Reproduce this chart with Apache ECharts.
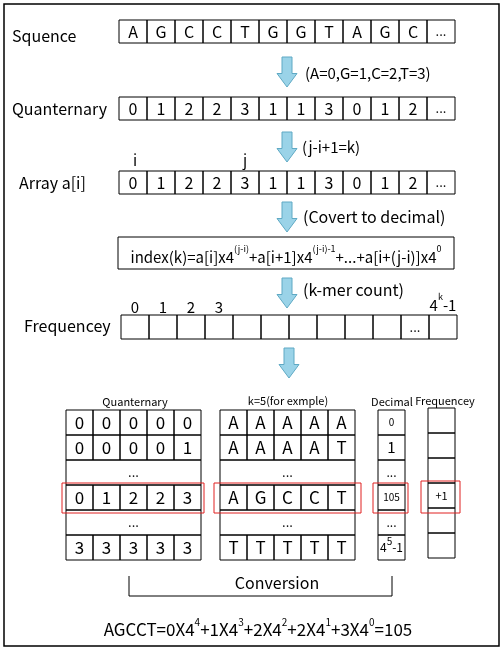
<!DOCTYPE html>
<html>
<head>
<meta charset="utf-8">
<script src="https://cdn.jsdelivr.net/npm/echarts@6/dist/echarts.min.js"></script>
<style>html,body{margin:0;padding:0;background:#fff}#main{width:503px;height:650px}</style>
</head>
<body>
<div id="main"></div>
<script>
// 数据
var sequence = ['A', 'G', 'C', 'C', 'T', 'G', 'G', 'T', 'A', 'G', 'C', '...'];
var quaternary = ['0', '1', '2', '2', '3', '1', '1', '3', '0', '1', '2', '...'];
var freqLabels = ['0', '1', '2', '3'];
var quanRows = [['0','0','0','0','0'], ['0','0','0','0','1'], '...', ['0','1','2','2','3'], '...', ['3','3','3','3','3']];
var kmerRows = [['A','A','A','A','A'], ['A','A','A','A','T'], '...', ['A','G','C','C','T'], '...', ['T','T','T','T','T']];
var decimalCol = ['0', '1', '...', '105', '...', '{b|4}{s|5}{b|-1}'];
var freqCol = ['', '', '', '+1', '', ''];
var stepNotes = ['(A=0,G=1,C=2,T=3)', '(j-i+1=k)', '(Covert to decimal)', '(k-mer count)'];

var FONT = '"Noto Sans CJK SC", "Noto Sans", sans-serif';
var els = [];

function rect(x, y, w, h, stroke, lw) {
    els.push({type: 'rect', shape: {x: x, y: y, width: w, height: h},
        style: {fill: 'none', stroke: stroke || '#000', lineWidth: lw || 1}});
}
function text(x, y, t, size, align, extra) {
    var st = {text: t, x: x, y: y, fill: '#000', font: (size || 16) + 'px ' + FONT,
        align: align || 'left', verticalAlign: 'middle'};
    for (var k in extra) st[k] = extra[k];
    els.push({type: 'text', style: st});
}
function arrow(cx, y0, y1) {
    var mid = y0 + (y1 - y0) * 0.55;
    els.push({type: 'polygon', shape: {points: [
        [cx - 5, y0], [cx + 5, y0], [cx + 5, mid], [cx + 10, mid],
        [cx, y1], [cx - 10, mid], [cx - 5, mid]]},
        style: {fill: '#9ad3e8', stroke: '#5fa9c4', lineWidth: 1}});
}
function row(x, y, cw, h, cells, size) {
    for (var i = 0; i < cells.length; i++) {
        rect(x + i * cw, y, cw, h);
        if (cells[i] !== '') text(x + i * cw + cw / 2, y + h / 2, cells[i], cells[i] === '...' ? 13 : (size || 16), 'center');
    }
}
function grid(x, y, cw, rh, rows) {
    for (var r = 0; r < rows.length; r++) {
        var yy = y + r * rh;
        if (typeof rows[r] === 'string') {
            rect(x, yy, cw * 5, rh);
            text(x + cw * 2.5, yy + rh / 2, rows[r], 13, 'center');
        } else {
            row(x, yy, cw, rh, rows[r], 17);
        }
    }
}

// 外框
rect(4, 4, 495, 642, '#000', 1.5);

// 上半部分
text(12, 36, 'Squence', 16);
row(119, 20, 28, 23, sequence, 16);
arrow(287, 57, 87);
text(305, 73, stepNotes[0], 15);

text(12, 109, 'Quanternary', 16);
row(119, 97, 28, 23, quaternary, 16);
arrow(287, 132, 162);
text(302, 147, stepNotes[1], 15);
text(135, 160, 'i', 15, 'center');
text(245, 160, 'j', 15, 'center');

text(19, 183, 'Array a[i]', 16);
row(119, 171, 28, 23, quaternary, 16);
arrow(287, 202, 232);
text(303, 217, stepNotes[2], 16);

var rich = {
    b: {fontSize: 15, fontFamily: FONT, fill: '#000', lineHeight: 20},
    s: {fontSize: 9, fontFamily: FONT, fill: '#000', padding: [0, 0, 16, 0]}
};
rect(118, 237, 336, 32);
text(286, 257, '{b|index(k)=a[i]x4}{s|(j-i)}{b|+a[i+1]x4}{s|(j-i)-1}{b|+...+a[i+(j-i)]x4}{s|0}', 15, 'center', {rich: rich});
arrow(287, 278, 308);
text(303, 290, stepNotes[3], 16);

for (var i = 0; i < freqLabels.length; i++) text(135 + i * 28, 307, freqLabels[i], 15, 'center');
text(443, 305, '{b|4}{s|k}{b|-1}', 15, 'center', {rich: rich});
text(24, 326, 'Frequencey', 16);
var freqRow = [];
for (i = 0; i < 12; i++) freqRow.push(i === 10 ? '...' : '');
row(121, 315, 28, 24, freqRow, 14);
arrow(289, 348, 378);

// 下半部分
text(135, 402, 'Quanternary', 11, 'center');
text(288, 401, 'k=5(for exmple)', 11, 'center');
text(392, 402, 'Decimal', 11, 'center');
text(445, 401, 'Frequencey', 11, 'center');
grid(66, 410, 27, 25, quanRows);
grid(220, 410, 27, 25, kmerRows);
var smallRich = {
    b: {fontSize: 12, fontFamily: FONT, fill: '#000'},
    s: {fontSize: 10, fontFamily: FONT, fill: '#000', padding: [0, 0, 12, 0]}
};
for (i = 0; i < decimalCol.length; i++) {
    rect(378, 410 + i * 25, 27, 25);
    text(391.5, 422.5 + i * 25, decimalCol[i], i === 1 ? 15 : (decimalCol[i] === '...' ? 12 : 10), 'center', {rich: smallRich});
    rect(428, 408 + i * 25, 27, 25);
    if (freqCol[i]) text(441.5, 420.5 + i * 25, freqCol[i], 11, 'center');
}
rect(62, 483, 142, 30, '#e02020');
rect(214, 483, 147, 30, '#e02020');
rect(373, 483, 35, 30, '#e02020');
rect(421, 481, 39, 32, '#e02020');

// 括号
els.push({type: 'polyline', shape: {points: [[129, 576], [129, 596], [392, 596], [392, 576]]},
    style: {stroke: '#000', lineWidth: 1, fill: null}});
text(277, 583, 'Conversion', 16, 'center');

var richBig = {
    b: {fontSize: 17, fontFamily: FONT, fill: '#000', lineHeight: 22},
    s: {fontSize: 10, fontFamily: FONT, fill: '#000', padding: [0, 0, 16, 0]}
};
text(258, 630, '{b|AGCCT=0X4}{s|4}{b|+1X4}{s|3}{b|+2X4}{s|2}{b|+2X4}{s|1}{b|+3X4}{s|0}{b|=105}', 17, 'center', {rich: richBig});

var myChart = echarts.init(document.getElementById('main'));
myChart.setOption({animation: false, graphic: {elements: els}});
window.addEventListener('resize', function () { myChart.resize(); });
</script>
</body>
</html>
